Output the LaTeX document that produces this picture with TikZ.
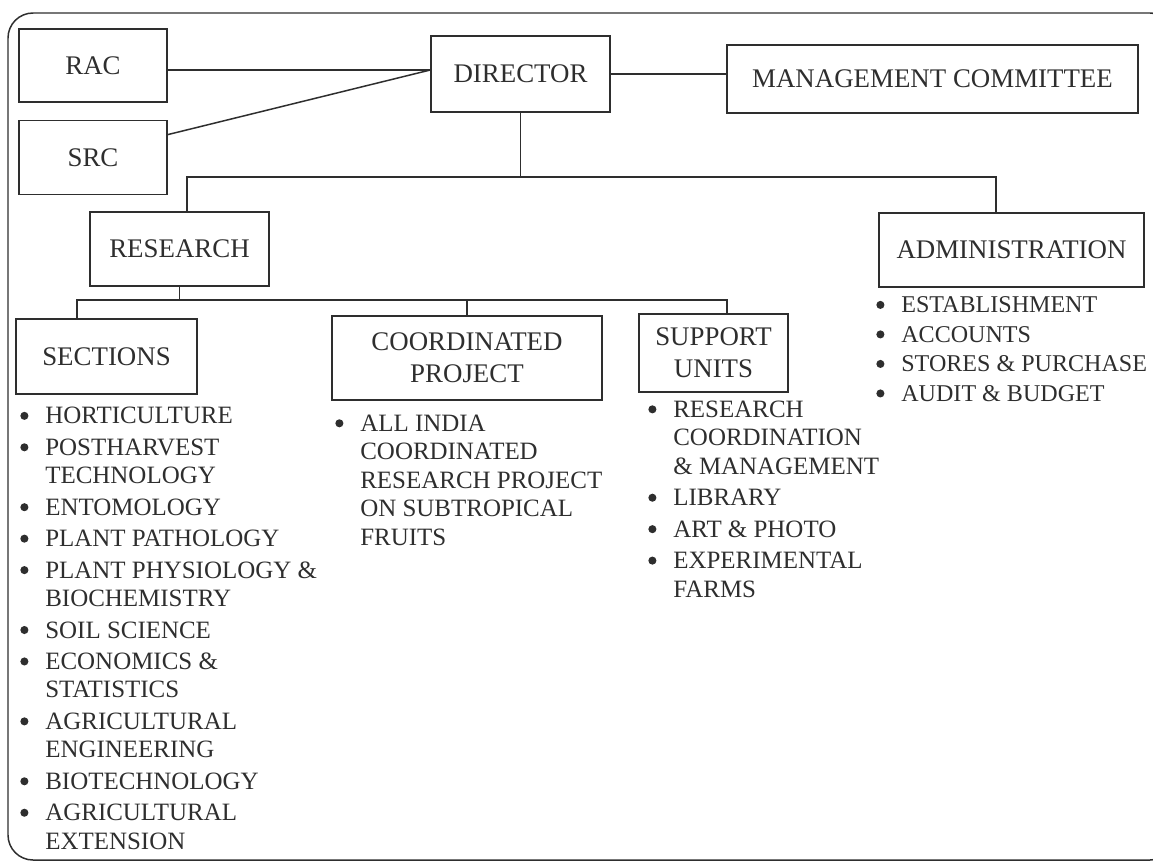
\documentclass[tikz,border=0pt]{standalone}
\usepackage{fontspec}
\setmainfont{Liberation Serif}
\usepackage{tikz}
\usetikzlibrary{positioning, calc}
\definecolor{ink}{HTML}{2E2E2E}
\newcommand{\boxfont}{\fontsize{15.3}{18}\selectfont}
\newcommand{\listfont}{\fontsize{14.2}{16.2}\selectfont}
\newcommand{\bul}{\makebox[0.5cm][l]{\raisebox{0.16em}{\tikz\fill[ink] (0,0) circle (2.3pt);}}}
\newcommand{\contd}{\hspace*{0.5cm}}
\tikzset{
	unit/.style={rectangle, draw=ink, line width=0.85pt, inner sep=0pt, align=center, font=\boxfont, text=ink},
	link/.style={draw=ink, line width=0.85pt},
	itemlist/.style={anchor=north west, inner sep=0pt, align=left, font=\listfont, text=ink}
}
\begin{document}
\begin{tikzpicture}[x=0.02cm, y=-0.02cm]
		\useasboundingbox (0,0) rectangle (1153,862);
		\clip (0,0) rectangle (1153,862);
		% Marco
		\draw [link, rounded corners=0.5cm] (8,13) rectangle (1175,860);
		
		% Nivel superior
		\node (RAC) [unit, minimum width=2.96cm, minimum height=1.46cm] at (93,65.5) {RAC};
		\node (SRC) [unit, minimum width=2.96cm, minimum height=1.48cm, below=0.34cm of RAC] {SRC};
		\node (DIRECTOR) [unit, minimum width=3.58cm, minimum height=1.52cm] at (520.5,74) {DIRECTOR};
		\node (MC) [unit, minimum width=8.22cm, minimum height=1.36cm] at (932.5,79) {MANAGEMENT COMMITTEE};
		
		% Divisiones
		\node (RESEARCH) [unit, minimum width=3.58cm, minimum height=1.48cm] at (179.5,249) {RESEARCH};
		\node (ADMIN) [unit, minimum width=5.3cm, minimum height=1.48cm] at (1011.5,250) {ADMINISTRATION};
		\node (SECTIONS) [unit, minimum width=3.62cm, minimum height=1.5cm] at (106.5,356.5) {SECTIONS};
		\node (COORD) [unit, minimum width=5.4cm, minimum height=1.68cm] at (467,358) {COORDINATED\\PROJECT};
		\node (SUPPORT) [unit, minimum width=2.98cm, minimum height=1.56cm] at (713.5,353) {SUPPORT\\UNITS};
		
		% Listas
		\node (seclist) [itemlist] at (20,407) {\bul HORTICULTURE\\[1.7pt]
			\bul POSTHARVEST\\ \contd TECHNOLOGY\\[1.7pt]
			\bul ENTOMOLOGY\\[1.7pt]
			\bul PLANT PATHOLOGY\\[1.7pt]
			\bul PLANT PHYSIOLOGY \&\\ \contd BIOCHEMISTRY\\[1.7pt]
			\bul SOIL SCIENCE\\[1.7pt]
			\bul ECONOMICS \&\\ \contd STATISTICS\\[1.7pt]
			\bul AGRICULTURAL\\ \contd ENGINEERING\\[1.7pt]
			\bul BIOTECHNOLOGY\\[1.7pt]
			\bul AGRICULTURAL\\ \contd EXTENSION};
		\node (coordlist) [itemlist] at (335,414.5) {\bul ALL INDIA\\ \contd COORDINATED\\ \contd RESEARCH PROJECT\\ \contd ON SUBTROPICAL\\ \contd FRUITS};
		\node (suplist) [itemlist] at (648,400.5) {\bul RESEARCH\\ \contd COORDINATION\\ \contd \& MANAGEMENT\\[1.7pt]
			\bul LIBRARY\\[1.7pt]
			\bul ART \& PHOTO\\[1.7pt]
			\bul EXPERIMENTAL\\ \contd FARMS};
		\node (adminlist) [itemlist, font=\fontsize{13.7}{16.2}\selectfont] at (876,296.5) {\bul ESTABLISHMENT\\[0.6pt]
			\bul ACCOUNTS\\[0.6pt]
			\bul STORES \& PURCHASE\\[0.6pt]
			\bul AUDIT \& BUDGET};
		
		% Conexiones
		\coordinate (dirin) at ([yshift=0.08cm]DIRECTOR.west);
		\coordinate (bus1) at (0,177);
		\coordinate (bus2) at (0,300);
		\draw [link] (RAC.east |- dirin) -- (dirin);
		\draw [link] (SRC.17) -- (dirin);
		\draw [link] (DIRECTOR.east) -- (DIRECTOR.east -| MC.west);
		\draw [link] (DIRECTOR.south) -- (DIRECTOR.south |- bus1);
		\draw [link] ([xshift=0.15cm]RESEARCH.north) |- ([xshift=-0.31cm]ADMIN.north |- bus1) -- ([xshift=-0.31cm]ADMIN.north);
		\draw [link] (RESEARCH.south) -- (RESEARCH.south |- bus2);
		\draw [link] ([xshift=-0.59cm]SECTIONS.north) |- ([xshift=0.27cm]SUPPORT.north |- bus2) -- ([xshift=0.27cm]SUPPORT.north);
		\draw [link] (COORD.north) -- (COORD.north |- bus2);
	\end{tikzpicture}
\end{document}
